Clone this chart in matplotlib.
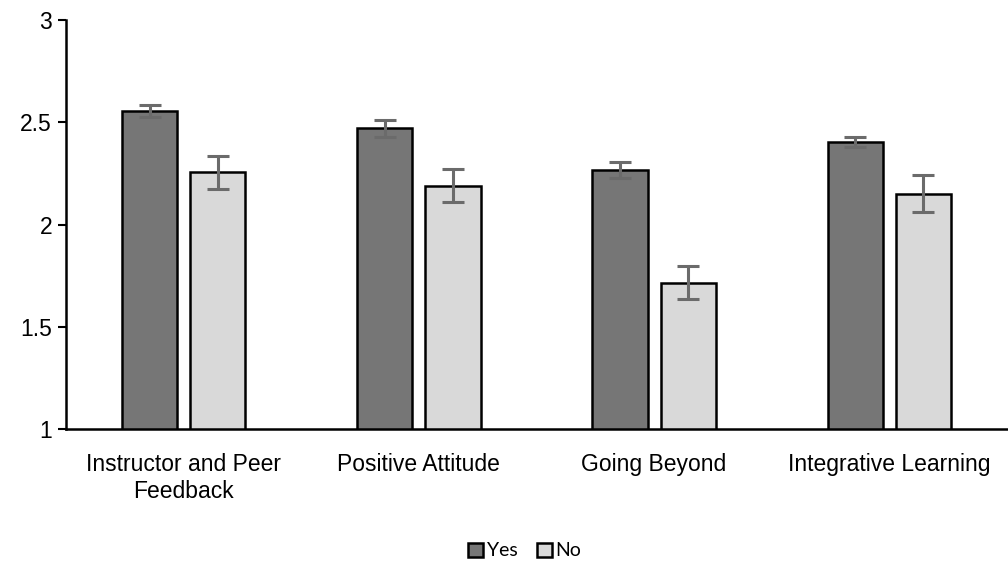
import matplotlib.pyplot as plt
import numpy as np

plt.rcParams["font.family"] = ["Liberation Sans", "DejaVu Sans"]

categories = ["Instructor and Peer\nFeedback", "Positive Attitude", "Going Beyond", "Integrative Learning"]
yes_means = [2.555, 2.47, 2.265, 2.405]
yes_err = [0.03, 0.04, 0.04, 0.025]
no_means = [2.255, 2.19, 1.715, 2.15]
no_err = [0.08, 0.08, 0.08, 0.09]

fig = plt.figure(figsize=(10.08, 5.62), dpi=100)
ax = fig.add_axes([66 / 1008, 1 - 429 / 562, 1 - 66 / 1008 - 0.001, (429 - 20) / 562])

x = np.arange(len(categories))
w = 0.234
err_kw = dict(ecolor="#6b6b6b", elinewidth=2.2, capsize=8, capthick=2.2)
ax.bar(x - 0.145, yes_means, w, bottom=0, color="#767676", edgecolor="black",
       linewidth=1.8, yerr=yes_err, error_kw=err_kw, label="Yes", zorder=2)
ax.bar(x + 0.145, no_means, w, bottom=0, color="#d9d9d9", edgecolor="black",
       linewidth=1.8, yerr=no_err, error_kw=err_kw, label="No", zorder=2)

ax.set_ylim(1, 3)
ax.set_xlim(-0.5, 3.5)
ax.set_yticks([1, 1.5, 2, 2.5, 3])
ax.set_yticklabels(["1", "1.5", "2", "2.5", "3"])
ax.set_xticks(x)
ax.set_xticklabels(categories, fontsize=16.5, linespacing=1.25)
ax.tick_params(axis="x", length=0, pad=17)
ax.tick_params(axis="y", length=6, width=1.5, labelsize=16.5, pad=4)
for s in ["top", "right"]:
    ax.spines[s].set_visible(False)
for s in ["left", "bottom"]:
    ax.spines[s].set_linewidth(1.8)

fig.legend(loc="center", bbox_to_anchor=(525 / 1008, 1 - 551 / 562), ncol=2,
           frameon=False, handlelength=0.75, handleheight=0.75,
           handletextpad=0.2, columnspacing=1.0,
           prop={"family": ["Lato", "DejaVu Sans"], "size": 14})

fig.savefig("out.png", dpi=100)
